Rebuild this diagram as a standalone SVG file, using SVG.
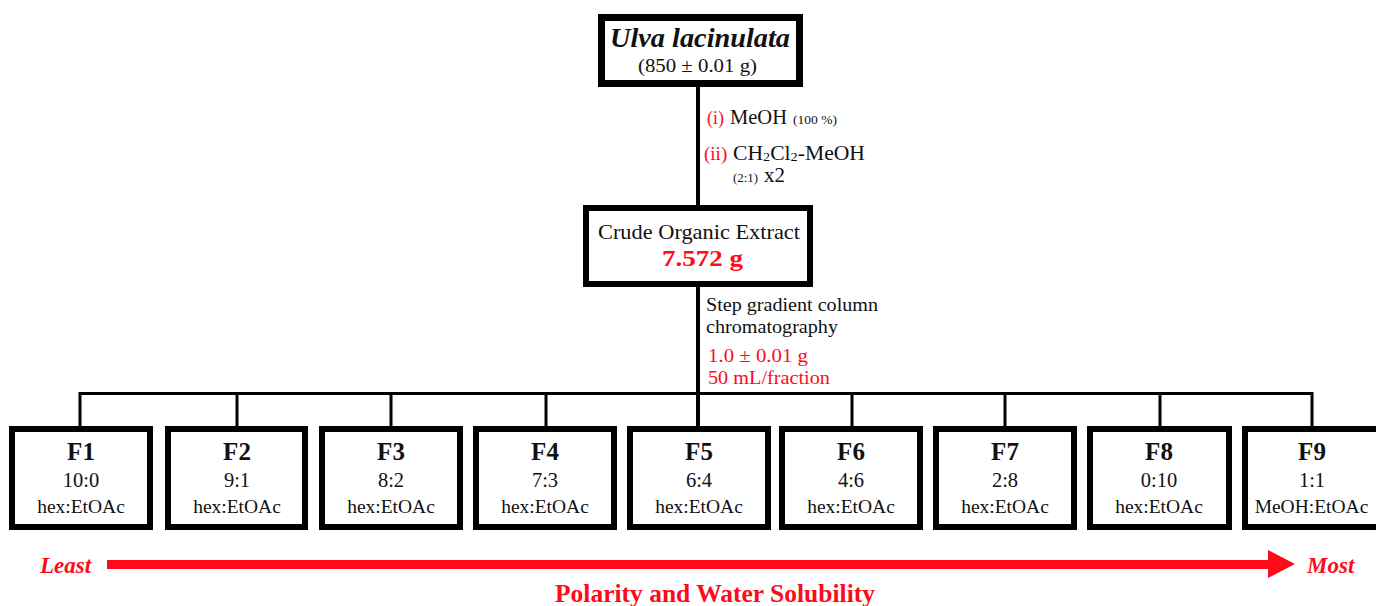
<svg xmlns="http://www.w3.org/2000/svg" width="1376" height="606" viewBox="0 0 1376 606">
<style>
text{font-family:"Liberation Serif","Times New Roman",serif;fill:#111}
.box{fill:#fff;stroke:#000}
.fb{fill:#fff;stroke:#000;stroke-width:6}
.fl{font-size:25px;font-weight:bold;text-anchor:middle}
.fr{font-size:20.5px;text-anchor:middle}
.fs{font-size:19.5px;text-anchor:middle}
.red{fill:#ff0a1a}
.conn{stroke:#000;fill:none}
.ann{font-size:19px}
</style>
<rect width="1376" height="606" fill="#fff"/>
<g id="connectors">
<line class="conn" x1="698" y1="86" x2="698" y2="206" stroke-width="4"/>
<line class="conn" x1="698" y1="286" x2="698" y2="427" stroke-width="4"/>
<line class="conn" x1="80" y1="393.5" x2="1313" y2="393.5" stroke-width="3"/>
<line class="conn" x1="80" y1="392" x2="80" y2="427" stroke-width="3"/>
<line class="conn" x1="237" y1="392" x2="237" y2="427" stroke-width="3"/>
<line class="conn" x1="391" y1="392" x2="391" y2="427" stroke-width="3"/>
<line class="conn" x1="546" y1="392" x2="546" y2="427" stroke-width="3"/>
<line class="conn" x1="852" y1="392" x2="852" y2="427" stroke-width="3"/>
<line class="conn" x1="1005" y1="392" x2="1005" y2="427" stroke-width="3"/>
<line class="conn" x1="1160" y1="392" x2="1160" y2="427" stroke-width="3"/>
<line class="conn" x1="1312" y1="392" x2="1312" y2="427" stroke-width="3"/>
</g>
<g id="label-extraction">
<text x="707" y="124" class="red" font-size="18">(i)</text>
<text x="730" y="124" font-size="20" textLength="57" lengthAdjust="spacingAndGlyphs">MeOH</text>
<text x="793" y="124" font-size="13" textLength="44" lengthAdjust="spacingAndGlyphs">(100 %)</text>
<text x="704" y="160" class="red" font-size="19">(ii)</text>
<text x="733" y="160" font-size="20.5" textLength="132" lengthAdjust="spacingAndGlyphs">CH<tspan font-size="13.5" dy="1">2</tspan><tspan dy="-1">Cl</tspan><tspan font-size="13.5" dy="1">2</tspan><tspan dy="-1">-MeOH</tspan></text>
<text x="733" y="182" font-size="13" textLength="25" lengthAdjust="spacingAndGlyphs">(2:1)</text>
<text x="764" y="182" font-size="21">x2</text>
</g>
<g id="label-chromatography">
<text x="706" y="311" class="ann" textLength="172" lengthAdjust="spacingAndGlyphs">Step gradient column</text>
<text x="706" y="333" class="ann" textLength="132" lengthAdjust="spacingAndGlyphs">chromatography</text>
<text x="708" y="362" class="ann red" textLength="100" lengthAdjust="spacingAndGlyphs">1.0 ± 0.01 g</text>
<text x="708" y="384" class="ann red" textLength="122" lengthAdjust="spacingAndGlyphs">50 mL/fraction</text>
</g>
<g id="node-ulva">
<rect class="box" x="601.5" y="17.5" width="198" height="66" stroke-width="7"/>
<text x="610" y="47" font-size="27" font-weight="bold" font-style="italic" textLength="180" lengthAdjust="spacingAndGlyphs">Ulva lacinulata</text>
<text x="638" y="72" font-size="19" textLength="119" lengthAdjust="spacingAndGlyphs">(850 ± 0.01 g)</text>
</g>
<g id="node-crude">
<rect class="box" x="586" y="208" width="224" height="76" stroke-width="6"/>
<text x="598" y="239" font-size="22" textLength="202" lengthAdjust="spacingAndGlyphs">Crude Organic Extract</text>
<text x="662" y="266" font-size="24" font-weight="bold" class="red" textLength="81" lengthAdjust="spacingAndGlyphs">7.572 g</text>
</g>
<g id="node-F1"><rect class="fb" x="12" y="429" width="138" height="98"/><text class="fl" x="81" y="460">F1</text><text class="fr" x="81" y="487">10:0</text><text class="fs" x="81" y="513">hex:EtOAc</text></g>
<g id="node-F2"><rect class="fb" x="168" y="429" width="137" height="98"/><text class="fl" x="237" y="460">F2</text><text class="fr" x="237" y="487">9:1</text><text class="fs" x="237" y="513">hex:EtOAc</text></g>
<g id="node-F3"><rect class="fb" x="322" y="429" width="138" height="98"/><text class="fl" x="391" y="460">F3</text><text class="fr" x="391" y="487">8:2</text><text class="fs" x="391" y="513">hex:EtOAc</text></g>
<g id="node-F4"><rect class="fb" x="476" y="429" width="138" height="98"/><text class="fl" x="545" y="460">F4</text><text class="fr" x="545" y="487">7:3</text><text class="fs" x="545" y="513">hex:EtOAc</text></g>
<g id="node-F5"><rect class="fb" x="630" y="429" width="138" height="98"/><text class="fl" x="699" y="460">F5</text><text class="fr" x="699" y="487">6:4</text><text class="fs" x="699" y="513">hex:EtOAc</text></g>
<g id="node-F6"><rect class="fb" x="782" y="429" width="138" height="98"/><text class="fl" x="851" y="460">F6</text><text class="fr" x="851" y="487">4:6</text><text class="fs" x="851" y="513">hex:EtOAc</text></g>
<g id="node-F7"><rect class="fb" x="936" y="429" width="138" height="98"/><text class="fl" x="1005" y="460">F7</text><text class="fr" x="1005" y="487">2:8</text><text class="fs" x="1005" y="513">hex:EtOAc</text></g>
<g id="node-F8"><rect class="fb" x="1090" y="429" width="139" height="98"/><text class="fl" x="1159" y="460">F8</text><text class="fr" x="1159" y="487">0:10</text><text class="fs" x="1159" y="513">hex:EtOAc</text></g>
<g id="node-F9"><rect class="fb" x="1245" y="429" width="138" height="98"/><text class="fl" x="1312" y="460">F9</text><text class="fr" x="1312" y="487">1:1</text><text class="fs" x="1311.5" y="513">MeOH:EtOAc</text></g>
<g id="polarity-scale">
<line x1="107" y1="564.5" x2="1270" y2="564.5" stroke="#ff0a1a" stroke-width="9"/>
<polygon points="1268,550 1295,564 1268,578" fill="#ff0a1a"/>
<text x="40" y="573" class="red" font-size="23" font-weight="bold" font-style="italic">Least</text>
<text x="1307" y="573" class="red" font-size="23" font-weight="bold" font-style="italic">Most</text>
<text x="715" y="602" class="red" font-size="25.5" font-weight="bold" text-anchor="middle">Polarity and Water Solubility</text>
</g>
</svg>
